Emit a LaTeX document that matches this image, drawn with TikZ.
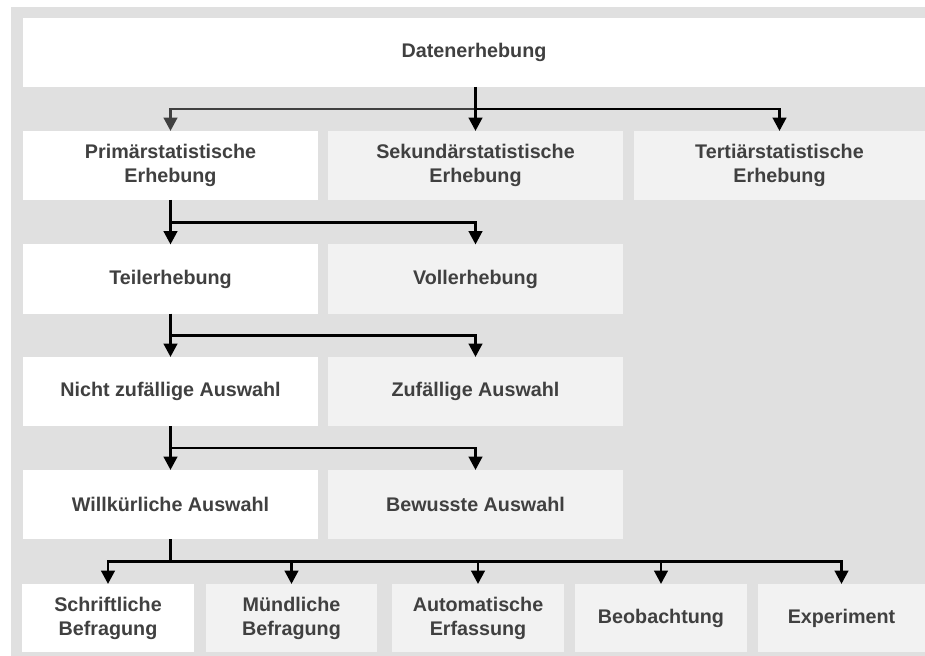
\documentclass[tikz,border=0pt]{standalone}
\usepackage{fontspec}
\setmainfont{Liberation Sans}
\usetikzlibrary{arrows.meta,positioning,calc}
\definecolor{panel}{HTML}{E0E0E0}
\definecolor{boxlight}{HTML}{F2F2F2}
\definecolor{ink}{HTML}{404040}

\tikzset{
  box/.style={fill=white, text=ink, font=\bfseries\fontsize{14.8}{18}\selectfont,
    align=center, inner sep=0pt, outer sep=0pt,
    minimum width=221.25pt, minimum height=51.75pt},
  altbox/.style={box, fill=boxlight},
  leaf/.style={box, minimum width=128.5pt, minimum height=51pt},
  link/.style={line width=2.2pt, -{Triangle[length=10pt,width=10pt]}},
}

\begin{document}
\begin{tikzpicture}[x=0.75pt, y=-0.75pt]
\useasboundingbox (0,0) rectangle (925,656);
\fill[white] (0,0) rectangle (925,656);
\fill[panel] (11,7) rectangle (925,656);

% --- top ---
\node[box, minimum width=676.5pt] (daten) at (474,52.5) {Datenerhebung};

% --- Erhebungsarten ---
\node[box]    (prim) at (170.5,165.5) {Primärstatistische\\Erhebung};
\node[altbox] (sek)  at (475.5,165.5) {Sekundärstatistische\\Erhebung};
\node[altbox, minimum width=218.25pt] (tert) at (779.5,165.5) {Tertiärstatistische\\Erhebung};

% --- Umfang ---
\node[box]    (teil) at (170.5,279) {Teilerhebung};
\node[altbox] (voll) at (475.5,279) {Vollerhebung};

% --- Auswahl ---
\node[box]    (nzuf) at (170.5,391.5) {Nicht zufällige Auswahl};
\node[altbox] (zuf)  at (475.5,391.5) {Zufällige Auswahl};

\node[box]    (willk) at (170.5,504.5) {Willkürliche Auswahl};
\node[altbox] (bew)   at (475.5,504.5) {Bewusste Auswahl};

% --- Methoden ---
\node[leaf]                   (schrift) at (108,618)   {Schriftliche\\Befragung};
\node[leaf, fill=boxlight]    (muend)   at (291.5,618) {Mündliche\\Befragung};
\node[leaf, fill=boxlight]    (auto)    at (478,618)   {Automatische\\Erfassung};
\node[leaf, fill=boxlight]    (beob)    at (661,618)   {Beobachtung};
\node[leaf, fill=boxlight, minimum width=125.25pt] (exp) at (841.5,618) {Experiment};

% Connectors
\coordinate (j0) at ($(daten.south -| sek.north)!0.5!(sek.north)$);
\draw[link, ink] (j0) -| (prim.north);
\draw[link] (j0) -| (tert.north);
\draw[link] (daten.south -| sek.north) -- (sek.north);

\coordinate (j1) at ($(prim.south)!0.5!(teil.north)$);
\draw[link] (prim.south) -- (teil.north);
\draw[link] (j1) -| (voll.north);

\coordinate (j2) at ($(teil.south)!0.5!(nzuf.north)$);
\draw[link] (teil.south) -- (nzuf.north);
\draw[link] (j2) -| (zuf.north);

\coordinate (j3) at ($(nzuf.south)!0.5!(willk.north)$);
\draw[link] (nzuf.south) -- (willk.north);
\draw[link] (j3) -| (bew.north);

\coordinate (j4) at ($(willk.south)!0.5!(willk.south |- schrift.north)$);
\draw[line width=2.2pt] (willk.south) -- (j4);
\foreach \n in {schrift,muend,auto,beob,exp}
  \draw[link] (j4) -| (\n.north);
\end{tikzpicture}
\end{document}
